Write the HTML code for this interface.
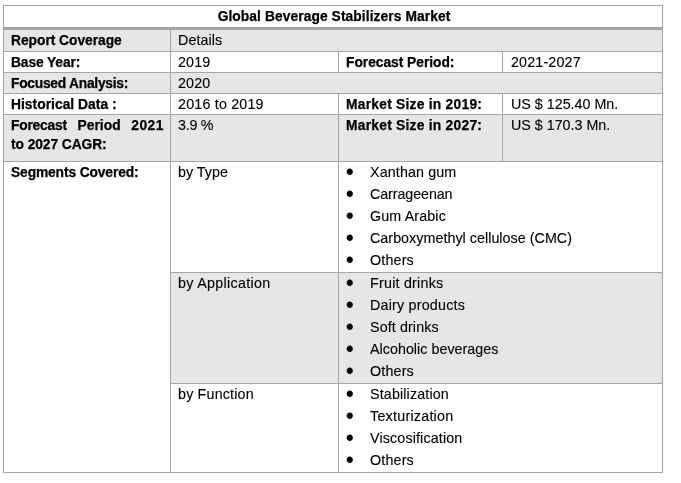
<!DOCTYPE html>
<html lang="en">
<head>
<meta charset="utf-8">
<title>Global Beverage Stabilizers Market</title>
<style>
html,body{margin:0;padding:0;background:#fff}
body{width:681px;height:483px;position:relative;overflow:hidden;font-family:"Liberation Sans",sans-serif;color:#000}
.g{position:absolute;background:#e7e6e6}
.l{position:absolute;background:#a5a5a5}
.t{position:absolute;white-space:pre;font-size:14.3px;line-height:20px;height:20px;-webkit-text-stroke:0.12px #000}
.b{font-weight:bold;font-size:13.8px;line-height:21px;height:21px;-webkit-text-stroke:0.25px #000}
.j{white-space:normal;text-align:justify;text-align-last:justify}
.d{position:absolute;left:345.8px;font-size:23px;line-height:26px;height:26px;white-space:pre}
</style>
</head>
<body>
<!-- shaded bands -->
<div class="g" style="left:4px;top:30px;width:658px;height:21px"></div>
<div class="g" style="left:4px;top:73px;width:658px;height:20px"></div>
<div class="g" style="left:4px;top:115px;width:658px;height:46px"></div>
<div class="g" style="left:171px;top:273px;width:491px;height:110px"></div>
<!-- grid lines -->
<div class="l" style="left:3px;top:5px;width:660px;height:1px"></div>
<div class="l" style="left:3px;top:27px;width:660px;height:3px"></div>
<div class="l" style="left:3px;top:51px;width:660px;height:1px"></div>
<div class="l" style="left:3px;top:72px;width:660px;height:1px"></div>
<div class="l" style="left:3px;top:93px;width:660px;height:1px"></div>
<div class="l" style="left:3px;top:114px;width:660px;height:1px"></div>
<div class="l" style="left:3px;top:161px;width:660px;height:1px"></div>
<div class="l" style="left:170px;top:272px;width:493px;height:1px"></div>
<div class="l" style="left:170px;top:383px;width:493px;height:1px"></div>
<div class="l" style="left:3px;top:472px;width:660px;height:1px"></div>
<div class="l" style="left:3px;top:5px;width:1px;height:468px"></div>
<div class="l" style="left:662px;top:5px;width:1px;height:468px"></div>
<div class="l" style="left:170px;top:30px;width:1px;height:442px"></div>
<div class="l" style="left:338px;top:52px;width:1px;height:20px"></div>
<div class="l" style="left:338px;top:94px;width:1px;height:20px"></div>
<div class="l" style="left:338px;top:115px;width:1px;height:46px"></div>
<div class="l" style="left:338px;top:162px;width:1px;height:310px"></div>
<div class="l" style="left:502px;top:52px;width:1px;height:20px"></div>
<div class="l" style="left:502px;top:94px;width:1px;height:20px"></div>
<div class="l" style="left:502px;top:115px;width:1px;height:46px"></div>
<!-- text -->
<div class="t b" style="left:217.64px;top:6px;letter-spacing:0.079px">Global Beverage Stabilizers Market</div>
<div class="t b" style="left:11px;top:30px;letter-spacing:-0.029px">Report Coverage</div>
<div class="t" style="left:178px;top:30px;letter-spacing:0.065px">Details</div>
<div class="t b" style="left:11px;top:52px;letter-spacing:-0.108px">Base Year:</div>
<div class="t" style="left:178px;top:52px;letter-spacing:0.156px">2019</div>
<div class="t b" style="left:346px;top:52px;letter-spacing:-0.028px">Forecast Period:</div>
<div class="t" style="left:511px;top:52px;letter-spacing:0.156px">2021-2027</div>
<div class="t b" style="left:11px;top:73px;letter-spacing:-0.255px">Focused Analysis:</div>
<div class="t" style="left:178px;top:73px;letter-spacing:0.156px">2020</div>
<div class="t b" style="left:11px;top:94px;letter-spacing:0.037px">Historical Data :</div>
<div class="t" style="left:178px;top:94px;letter-spacing:0.189px">2016 to 2019</div>
<div class="t b" style="left:346px;top:94px;letter-spacing:0.251px">Market Size in 2019:</div>
<div class="t" style="left:511px;top:94px;letter-spacing:0.000px">US $ 125.40 Mn.</div>
<div class="t b j" style="left:11px;top:115px;width:152.9px"><span style="letter-spacing:-0.202px">Forecast</span> <span style="letter-spacing:0.074px">Period</span> <span style="letter-spacing:0.482px">2021</span></div>
<div class="t b" style="left:11px;top:134px;letter-spacing:-0.075px">to 2027 CAGR:</div>
<div class="t" style="left:178px;top:115px;letter-spacing:-0.250px">3.9 %</div>
<div class="t b" style="left:346px;top:115px;letter-spacing:0.251px">Market Size in 2027:</div>
<div class="t" style="left:511px;top:115px;letter-spacing:-0.011px">US $ 170.3 Mn.</div>
<div class="t b" style="left:11px;top:162px;letter-spacing:-0.125px">Segments Covered:</div>
<div class="t" style="left:178px;top:162px;letter-spacing:0.009px">by Type</div>
<div class="d" style="top:159px">•</div>
<div class="t" style="left:370px;top:162px;letter-spacing:0.122px">Xanthan gum</div>
<div class="d" style="top:181px">•</div>
<div class="t" style="left:370px;top:184px;letter-spacing:-0.089px">Carrageenan</div>
<div class="d" style="top:203px">•</div>
<div class="t" style="left:370px;top:206px;letter-spacing:0.122px">Gum Arabic</div>
<div class="d" style="top:225px">•</div>
<div class="t" style="left:370px;top:228px;letter-spacing:0.034px">Carboxymethyl cellulose (CMC)</div>
<div class="d" style="top:247px">•</div>
<div class="t" style="left:370px;top:250px;letter-spacing:0.164px">Others</div>
<div class="t" style="left:178px;top:273px;letter-spacing:0.306px">by Application</div>
<div class="d" style="top:270px">•</div>
<div class="t" style="left:370px;top:273px;letter-spacing:0.228px">Fruit drinks</div>
<div class="d" style="top:292px">•</div>
<div class="t" style="left:370px;top:295px;letter-spacing:0.206px">Dairy products</div>
<div class="d" style="top:314px">•</div>
<div class="t" style="left:370px;top:317px;letter-spacing:0.105px">Soft drinks</div>
<div class="d" style="top:336px">•</div>
<div class="t" style="left:370px;top:339px;letter-spacing:0.025px">Alcoholic beverages</div>
<div class="d" style="top:358px">•</div>
<div class="t" style="left:370px;top:361px;letter-spacing:0.164px">Others</div>
<div class="t" style="left:178px;top:384px;letter-spacing:0.178px">by Function</div>
<div class="d" style="top:381px">•</div>
<div class="t" style="left:370px;top:384px;letter-spacing:0.142px">Stabilization</div>
<div class="d" style="top:403px">•</div>
<div class="t" style="left:370px;top:406px;letter-spacing:0.243px">Texturization</div>
<div class="d" style="top:425px">•</div>
<div class="t" style="left:370px;top:428px;letter-spacing:0.138px">Viscosification</div>
<div class="d" style="top:447px">•</div>
<div class="t" style="left:370px;top:450px;letter-spacing:0.164px">Others</div>
</body>
</html>
